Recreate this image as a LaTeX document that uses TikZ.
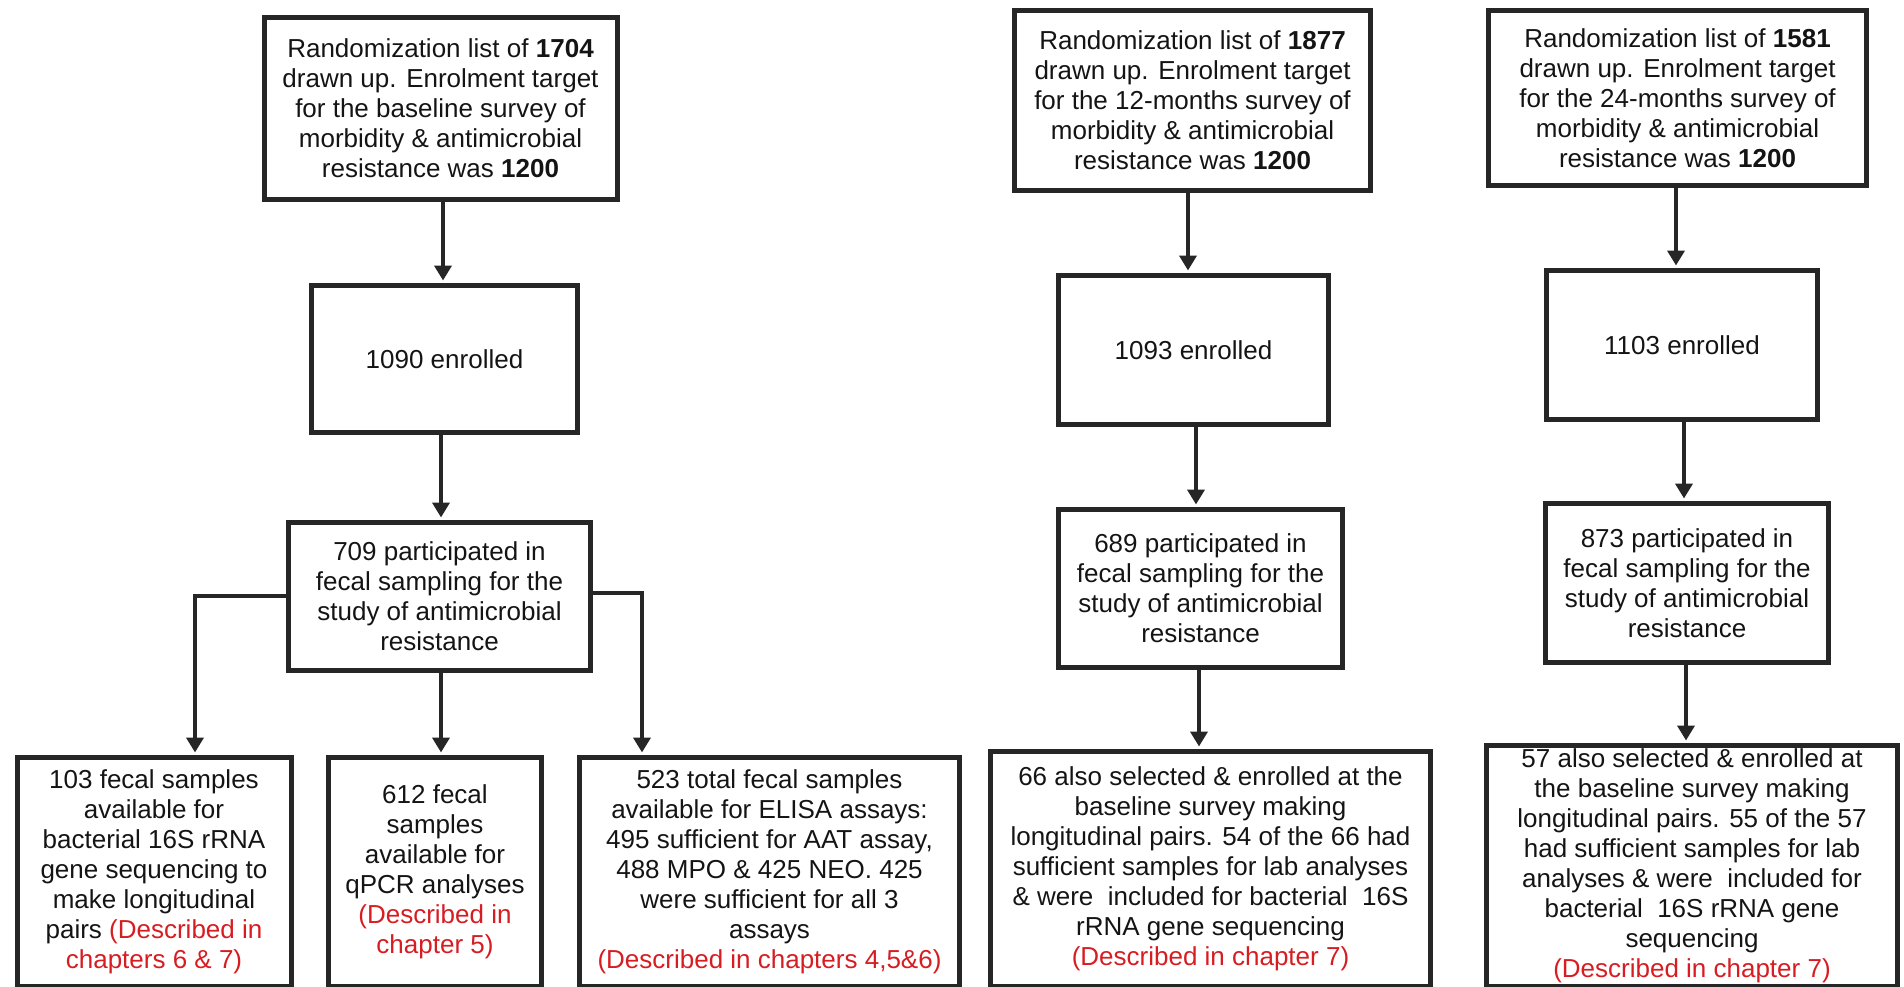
\documentclass[tikz,border=0pt]{standalone}
\usepackage{fontspec}
\setmainfont{Liberation Sans}
\usetikzlibrary{arrows.meta}
\definecolor{edge}{HTML}{262626}
\definecolor{note}{HTML}{D61D22}
\newcommand{\chap}[1]{\textcolor{note}{#1}}

\begin{document}
\begin{tikzpicture}[x=1pt,y=-1pt,
  box/.style={draw=edge, line width=5pt, inner sep=0pt, align=center,
    font=\fontsize{26}{30}\selectfont, text=black!92},
  arr/.style={draw=edge, line width=4.5pt, shorten >=2.5pt,
    -{Triangle[width=17pt,length=15pt]}}]
\useasboundingbox (0,0) rectangle (1904,986);

% ---- baseline survey ----
\node[box, minimum width=353pt, minimum height=182pt] (a1) at (440.5,108)
  {Randomization list of \textbf{1704}\\drawn up. Enrolment target\\for the baseline survey of\\morbidity \& antimicrobial\\resistance was \textbf{1200}};
\node[box, minimum width=266pt, minimum height=147pt] (a2) at (444.5,359)
  {1090 enrolled};
\node[box, minimum width=302pt, minimum height=148pt] (a3) at (439.5,596.5)
  {709 participated in\\fecal sampling for the\\study of antimicrobial\\resistance};
\node[box, minimum width=274pt, minimum height=228.5pt] (a4a) at (154,871.75)
  {103 fecal samples\\available for\\bacterial 16S rRNA\\gene sequencing to\\make longitudinal\\pairs \chap{(Described in}\\\chap{chapters 6 \& 7)}};
\node[box, minimum width=213pt, minimum height=228.5pt] (a4b) at (435,871.75)
  {612 fecal\\samples\\available for\\qPCR analyses\\\chap{(Described in}\\\chap{chapter 5)}};
\node[box, minimum width=380pt, minimum height=228.5pt] (a4c) at (769.5,871.75)
  {523 total fecal samples\\available for ELISA assays:\\495 sufficient for AAT assay,\\488 MPO \& 425 NEO. 425\\were sufficient for all 3\\assays\\\chap{(Described in chapters 4,5\&6)}};

% ---- 12-months survey ----
\node[box, minimum width=356pt, minimum height=180pt] (b1) at (1192.5,100.5)
  {Randomization list of \textbf{1877}\\drawn up. Enrolment target\\for the 12-months survey of\\morbidity \& antimicrobial\\resistance was \textbf{1200}};
\node[box, minimum width=270pt, minimum height=149pt] (b2) at (1193.5,350)
  {1093 enrolled};
\node[box, minimum width=284pt, minimum height=158pt] (b3) at (1200.5,588.5)
  {689 participated in\\fecal sampling for the\\study of antimicrobial\\resistance};
\node[box, minimum width=440pt, minimum height=234.5pt] (b4) at (1210.5,868.75)
  {66 also selected \& enrolled at the\\baseline survey making\\longitudinal pairs. 54 of the 66 had\\sufficient samples for lab analyses\\\& were~ included for bacterial~ 16S\\rRNA gene sequencing\\\chap{(Described in chapter 7)}};

% ---- 24-months survey ----
\node[box, minimum width=378pt, minimum height=175pt] (c1) at (1677.5,98)
  {Randomization list of \textbf{1581}\\drawn up. Enrolment target\\for the 24-months survey of\\morbidity \& antimicrobial\\resistance was \textbf{1200}};
\node[box, minimum width=271pt, minimum height=149pt] (c2) at (1682,345)
  {1103 enrolled};
\node[box, minimum width=283pt, minimum height=159pt] (c3) at (1687,583)
  {873 participated in\\fecal sampling for the\\study of antimicrobial\\resistance};
\node[box, minimum width=411pt, minimum height=240.5pt] (c4) at (1692,865.75)
  {57 also selected \& enrolled at\\the baseline survey making\\longitudinal pairs. 55 of the 57\\had sufficient samples for lab\\analyses \& were~ included for\\bacterial~ 16S rRNA gene\\sequencing\\\chap{(Described in chapter 7)}};

% ---- connectors ----
\draw[arr] (443,0 |- a1.south) -- (443,0 |- a2.north);
\draw[arr] (441,0 |- a2.south) -- (441,0 |- a3.north);
\draw[arr] (441,0 |- a3.south) -- (441,0 |- a4b.north);
\draw[arr] (a3.west |- 0,596) -- (195,596) -- (195,0 |- a4a.north);
\draw[arr] (a3.east |- 0,593) -- (642,593) -- (642,0 |- a4c.north);

\draw[arr] (1188,0 |- b1.south) -- (1188,0 |- b2.north);
\draw[arr] (1196,0 |- b2.south) -- (1196,0 |- b3.north);
\draw[arr] (1199,0 |- b3.south) -- (1199,0 |- b4.north);

\draw[arr] (1676,0 |- c1.south) -- (1676,0 |- c2.north);
\draw[arr] (1684,0 |- c2.south) -- (1684,0 |- c3.north);
\draw[arr] (1686,0 |- c3.south) -- (1686,0 |- c4.north);
\end{tikzpicture}
\end{document}
